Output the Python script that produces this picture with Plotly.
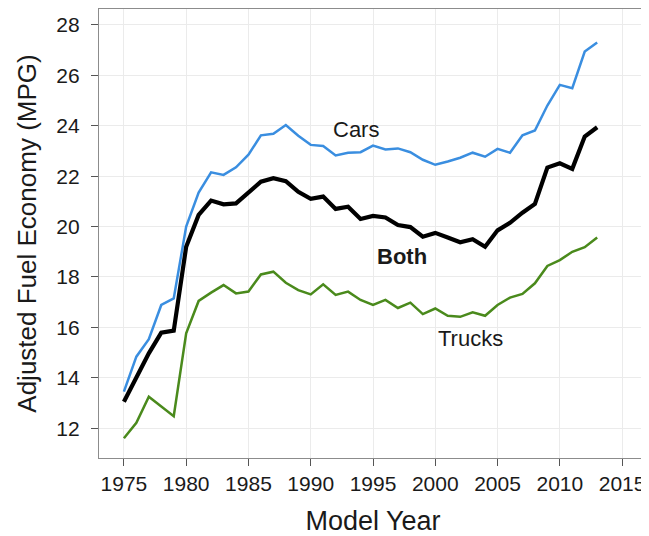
import plotly.graph_objects as go

years = list(range(1975, 2014))

cars = [13.45, 14.84, 15.53, 16.89, 17.15, 20.0, 21.35, 22.15, 22.05, 22.35,
        22.85, 23.62, 23.68, 24.03, 23.6, 23.24, 23.2, 22.82, 22.93, 22.95,
        23.21, 23.06, 23.1, 22.95, 22.65, 22.45, 22.58, 22.73, 22.93, 22.77,
        23.08, 22.93, 23.62, 23.81, 24.8, 25.62, 25.49, 26.94, 27.3]

both = [13.05, 14.04, 14.97, 15.79, 15.87, 19.2, 20.46, 21.03, 20.88, 20.92,
        21.35, 21.78, 21.92, 21.8, 21.38, 21.1, 21.19, 20.7, 20.79, 20.3,
        20.42, 20.36, 20.06, 19.98, 19.6, 19.75, 19.57, 19.38, 19.5, 19.2,
        19.85, 20.15, 20.55, 20.9, 22.34, 22.51, 22.29, 23.57, 23.94]

trucks = [11.6, 12.22, 13.25, 12.88, 12.48, 15.77, 17.05, 17.38, 17.68, 17.35,
          17.42, 18.1, 18.21, 17.77, 17.48, 17.31, 17.71, 17.29, 17.42, 17.09,
          16.89, 17.09, 16.77, 16.98, 16.53, 16.75, 16.46, 16.42, 16.6, 16.46,
          16.89, 17.18, 17.33, 17.75, 18.44, 18.67, 19.0, 19.18, 19.57]

x_ticks = [1975, 1980, 1985, 1990, 1995, 2000, 2005, 2010, 2015]
y_ticks = [12, 14, 16, 18, 20, 22, 24, 26, 28]

labels = ["Cars", "<b>Both</b>", "Trucks"]
label_x = [1993.6, 1997.3, 2002.8]
label_y = [23.86, 18.8, 15.57]

FONT = "Liberation Sans, Arial, sans-serif"

fig = go.Figure()
fig.add_trace(go.Scatter(x=years, y=trucks, mode="lines",
                         line=dict(color="#4a8a1c", width=2.5), name="Trucks"))
fig.add_trace(go.Scatter(x=years, y=cars, mode="lines",
                         line=dict(color="#3a8ee0", width=2.5), name="Cars"))
fig.add_trace(go.Scatter(x=years, y=both, mode="lines",
                         line=dict(color="#000000", width=4.2), name="Both"))

for t, lx, ly in zip(labels, label_x, label_y):
    fig.add_annotation(x=lx, y=ly, text=t, showarrow=False,
                       font=dict(family=FONT, size=22, color="#1a1a1a"))

axis_common = dict(
    showgrid=True, gridcolor="#ebebeb", gridwidth=1,
    showline=True, linecolor="#8c8c8c", linewidth=1.2, mirror=True,
    ticks="outside", ticklen=7, tickwidth=1.2, tickcolor="#555555",
    tickfont=dict(family=FONT, size=21, color="#1a1a1a"),
    zeroline=False,
)

fig.update_xaxes(range=[1973, 2017], tickvals=x_ticks,
                 title=dict(text="Model Year", standoff=18,
                            font=dict(family=FONT, size=27, color="#1a1a1a")),
                 **axis_common)
fig.update_yaxes(range=[10.82, 28.63], tickvals=y_ticks, ticklabelstandoff=7,
                 title=dict(text="Adjusted Fuel Economy (MPG)", standoff=12,
                            font=dict(family=FONT, size=26, color="#1a1a1a")),
                 **axis_common)

# page body has an 8px margin, so the figure is sized to fit the 649x536 window
fig.update_layout(
    width=641, height=528,
    margin=dict(l=91, r=2, t=1, b=78, autoexpand=False),
    plot_bgcolor="white", paper_bgcolor="white",
    showlegend=False,
    font=dict(family=FONT),
)

fig.write_html("out.html")
